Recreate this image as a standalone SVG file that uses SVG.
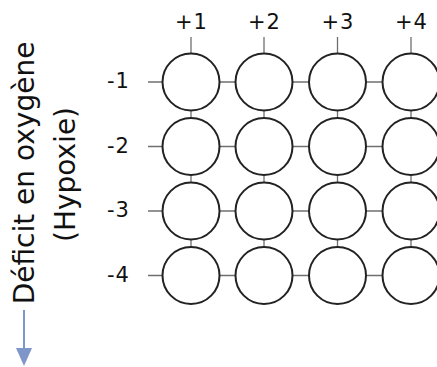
<svg xmlns="http://www.w3.org/2000/svg" width="437" height="367" viewBox="0 0 437 367">
<defs>
<style>
.n{fill:#fff;stroke:#222;stroke-width:2}
.c{stroke:#6f6f6f;stroke-width:1.3;fill:none}
.l{font-family:"DejaVu Sans",Verdana,sans-serif;font-size:21px;fill:#111;letter-spacing:1px}
.t{font-family:"DejaVu Sans",Verdana,sans-serif;font-size:28px;fill:#111;text-anchor:middle}
</style>
</defs>
<rect width="437" height="367" fill="#fff"/>
<g id="connectors">
<line class="c" x1="148" y1="82" x2="411" y2="82"/>
<line class="c" x1="148" y1="146.5" x2="411" y2="146.5"/>
<line class="c" x1="148" y1="211" x2="411" y2="211"/>
<line class="c" x1="148" y1="275.5" x2="411" y2="275.5"/>
<line class="c" x1="191" y1="37" x2="191" y2="275.5"/>
<line class="c" x1="264" y1="37" x2="264" y2="275.5"/>
<line class="c" x1="337.5" y1="37" x2="337.5" y2="275.5"/>
<line class="c" x1="411" y1="37" x2="411" y2="275.5"/>
</g>
<g id="col-labels" class="l" text-anchor="middle">
<text x="191.5" y="28.5">+1</text>
<text x="264.5" y="28.5">+2</text>
<text x="338" y="28.5">+3</text>
<text x="411.5" y="28.5">+4</text>
</g>
<g id="row-labels" class="l" text-anchor="end">
<text x="130" y="88">-1</text>
<text x="130" y="153">-2</text>
<text x="130" y="217">-3</text>
<text x="130" y="282">-4</text>
</g>
<g id="n11"><circle class="n" cx="191" cy="82" r="28.5"/></g>
<g id="n12"><circle class="n" cx="264" cy="82" r="28.5"/></g>
<g id="n13"><circle class="n" cx="337.5" cy="82" r="28.5"/></g>
<g id="n14"><circle class="n" cx="411" cy="82" r="28.5"/></g>
<g id="n21"><circle class="n" cx="191" cy="146.5" r="28.5"/></g>
<g id="n22"><circle class="n" cx="264" cy="146.5" r="28.5"/></g>
<g id="n23"><circle class="n" cx="337.5" cy="146.5" r="28.5"/></g>
<g id="n24"><circle class="n" cx="411" cy="146.5" r="28.5"/></g>
<g id="n31"><circle class="n" cx="191" cy="211" r="28.5"/></g>
<g id="n32"><circle class="n" cx="264" cy="211" r="28.5"/></g>
<g id="n33"><circle class="n" cx="337.5" cy="211" r="28.5"/></g>
<g id="n34"><circle class="n" cx="411" cy="211" r="28.5"/></g>
<g id="n41"><circle class="n" cx="191" cy="275.5" r="28.5"/></g>
<g id="n42"><circle class="n" cx="264" cy="275.5" r="28.5"/></g>
<g id="n43"><circle class="n" cx="337.5" cy="275.5" r="28.5"/></g>
<g id="n44"><circle class="n" cx="411" cy="275.5" r="28.5"/></g>
<g id="axis-label">
<text class="t" transform="translate(34,173) rotate(-90)">Déficit en oxygène</text>
<text class="t" transform="translate(75,174.5) rotate(-90)">(Hypoxie)</text>
</g>
<g id="axis-arrow">
<line x1="24" y1="310" x2="24" y2="349" stroke="#7f96c8" stroke-width="2"/>
<polygon points="16,348 32,348 24,366" fill="#7f96c8"/>
</g>
</svg>
